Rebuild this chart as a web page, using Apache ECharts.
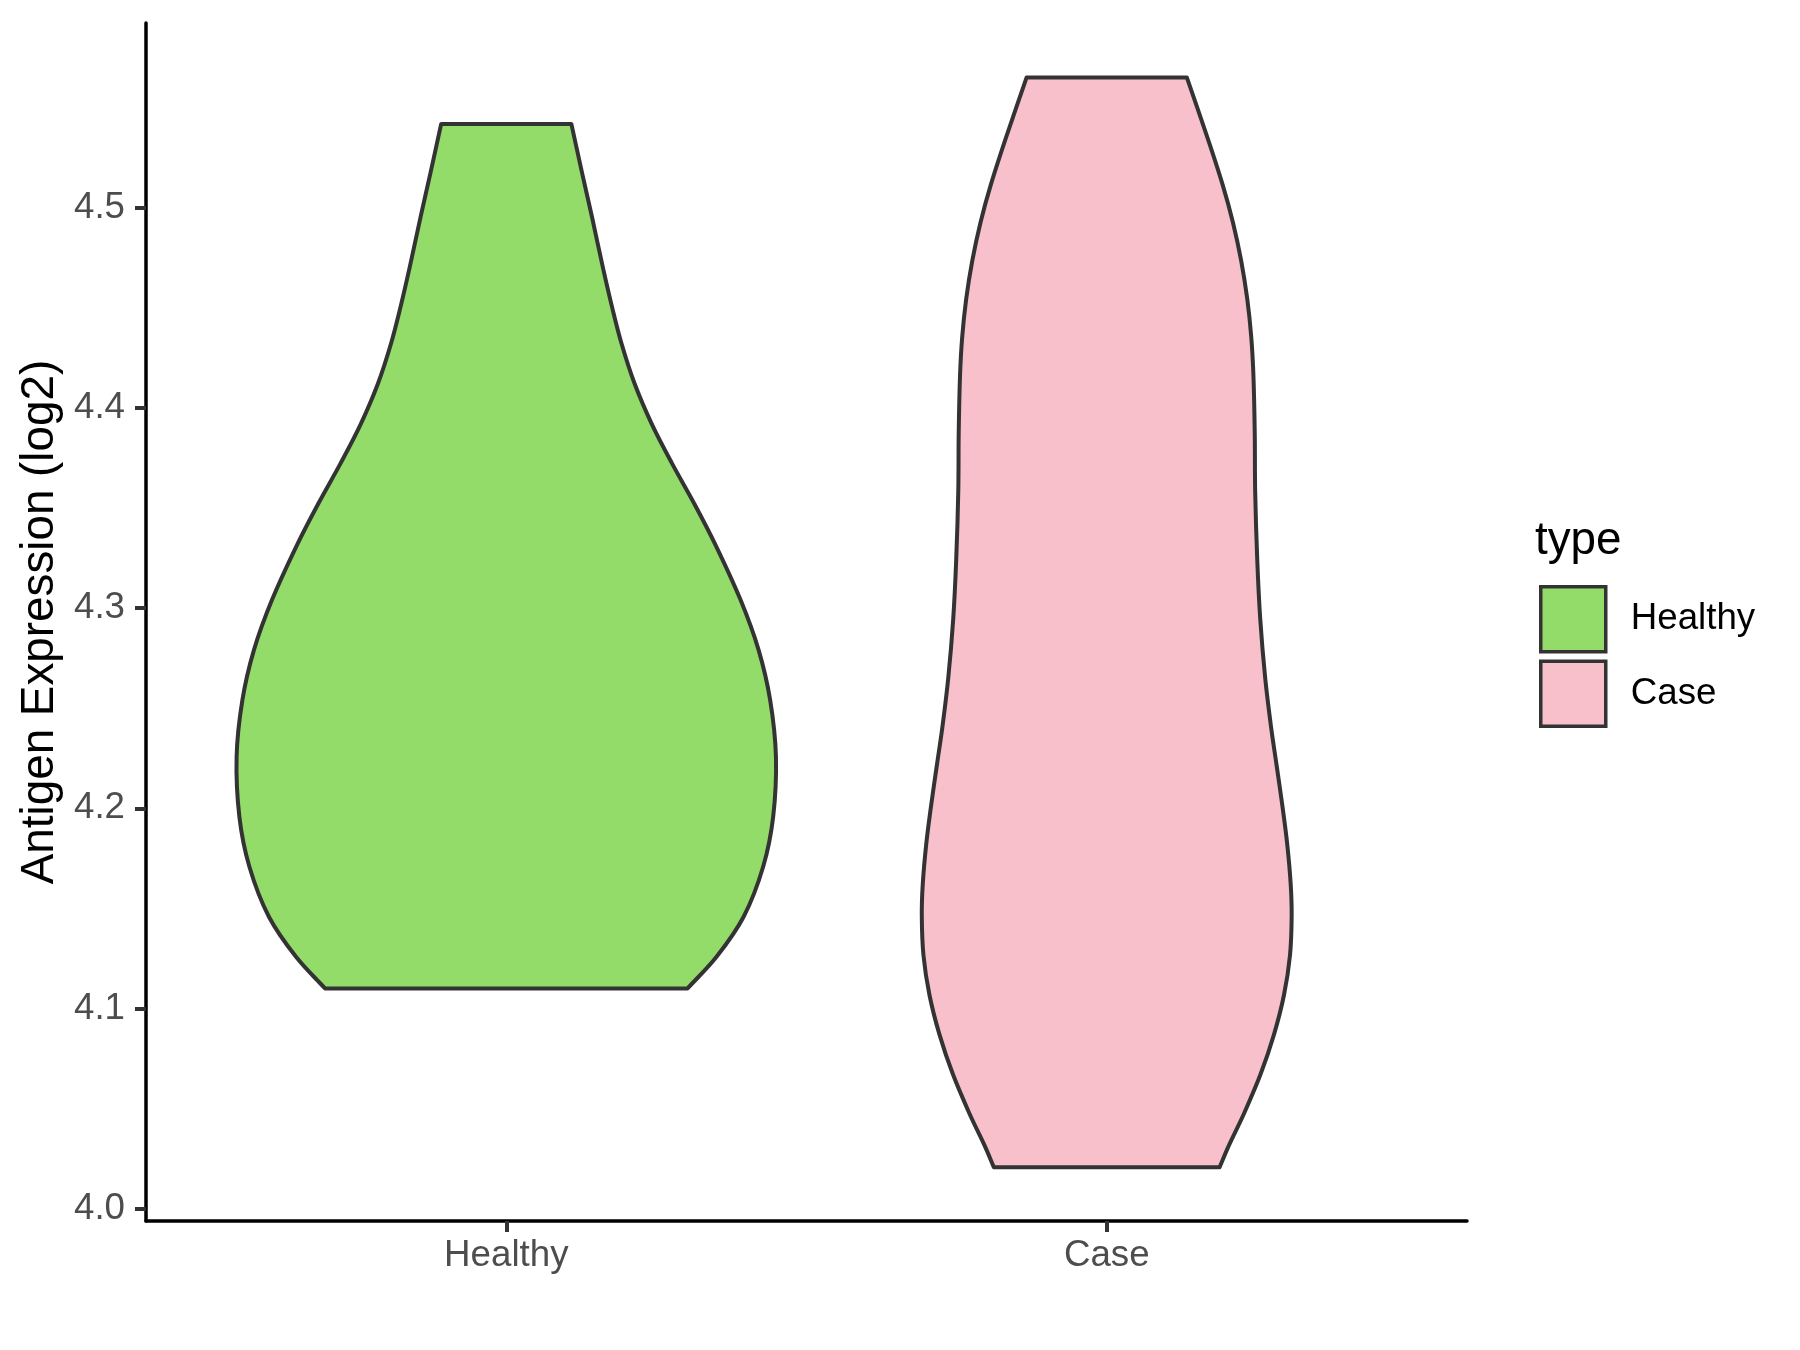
<!DOCTYPE html>
<html>
<head>
<meta charset="utf-8">
<script src="https://cdn.jsdelivr.net/npm/echarts@6/dist/echarts.min.js"></script>
<style>
  html, body { margin: 0; padding: 0; background: #ffffff; }
  #chart { width: 1800px; height: 1350px; }
</style>
</head>
<body>
<div id="chart"></div>
<script>
// ---- data ----
const categories = ['Healthy', 'Case'];
const yTicks = [4.0, 4.1, 4.2, 4.3, 4.4, 4.5];

// violin outlines: expression value (top -> bottom) and half-width (x-axis units)
const healthyY = [4.5419, 4.5172, 4.4956, 4.4706, 4.4506, 4.4323, 4.4123, 4.3923, 4.3723, 4.3524,
                  4.3315, 4.3040, 4.2790, 4.2540, 4.2257, 4.1958, 4.1708, 4.1458, 4.1258, 4.1100];
const healthyHalf = [0.1084, 0.1264, 0.1426, 0.1606, 0.1760, 0.1918, 0.2135, 0.2418, 0.2760, 0.3127,
                     0.3486, 0.3903, 0.4203, 0.4395, 0.4491, 0.4445, 0.4278, 0.3953, 0.3502, 0.3019];

const caseY = [4.5651, 4.5349, 4.5119, 4.4928, 4.4737, 4.4545, 4.4354, 4.4163, 4.3876, 4.3589, 4.3240,
               4.2944, 4.2648, 4.2410, 4.2213, 4.2015, 4.1818, 4.1620, 4.1462, 4.1265, 4.1067, 4.0869,
               4.0672, 4.0474, 4.0316, 4.0207];
const caseHalf = [0.1334, 0.1679, 0.1926, 0.2101, 0.2238, 0.2340, 0.2407, 0.2443, 0.2465, 0.2472, 0.2507,
                  0.2557, 0.2640, 0.2735, 0.2830, 0.2924, 0.3007, 0.3064, 0.3080, 0.3052, 0.2952, 0.2785,
                  0.2563, 0.2285, 0.2035, 0.1880];

const colors = { Healthy: '#94DC6A', Case: '#F7C0CB' };
const FONT = '"Liberation Sans", Arial, sans-serif';

function violinRenderer(ys, halfs, center, color) {
  return function (params, api) {
    const right = [], left = [];
    for (let i = 0; i < ys.length; i++) {
      right.push(api.coord([center + halfs[i], ys[i]]));
      left.push(api.coord([center - halfs[i], ys[i]]));
    }
    const n = ys.length - 1;
    const pts = [];
    // right side top -> bottom (corners duplicated to keep them sharp)
    pts.push(right[0]);
    for (let i = 0; i <= n; i++) pts.push(right[i]);
    pts.push(right[n]);
    // left side bottom -> top
    pts.push(left[n]);
    for (let i = n; i >= 0; i--) pts.push(left[i]);
    pts.push(left[0]);
    return {
      type: 'polygon',
      shape: { points: pts, smooth: 0.35 },
      style: { fill: color, stroke: '#333333', lineWidth: 4, lineJoin: 'round' }
    };
  };
}

const chart = echarts.init(document.getElementById('chart'), null, { renderer: 'canvas' });
chart.setOption({
  animation: false,
  backgroundColor: '#ffffff',
  title: {
    text: 'type',
    left: 1530,
    top: 513,
    textStyle: { fontFamily: FONT, fontSize: 45.8, fontWeight: 'normal', color: '#000000' }
  },
  legend: {
    orient: 'vertical',
    left: 1539,
    top: 585,
    padding: 0,
    itemWidth: 65,
    itemHeight: 65,
    itemGap: 6,
    icon: 'rect',
    data: categories,
    itemStyle: { borderColor: '#333333', borderWidth: 3.5 },
    textStyle: { fontFamily: FONT, fontSize: 36.7, color: '#000000', padding: [0, 0, 0, 20] },
    selectedMode: false
  },
  grid: { left: 146, right: 333, top: 23, bottom: 129, containLabel: false },
  xAxis: {
    type: 'value',
    min: 0.4,
    max: 2.6,
    splitLine: { show: false },
    axisLine: { show: true, onZero: false, lineStyle: { color: '#000000', width: 3.5 } },
    axisTick: { show: true, customValues: [1, 2], length: 11, lineStyle: { color: '#333333', width: 4 } },
    axisLabel: {
      show: true,
      customValues: [1, 2],
      margin: 16,
      fontFamily: FONT,
      fontSize: 36.7,
      color: '#4D4D4D',
      formatter: function (v) { return categories[Math.round(v) - 1] || ''; }
    }
  },
  yAxis: {
    type: 'value',
    min: 3.9938,
    max: 4.5923,
    name: 'Antigen Expression (log2)',
    nameLocation: 'middle',
    nameGap: 76,
    nameTextStyle: { fontFamily: FONT, fontSize: 45.8, color: '#000000' },
    splitLine: { show: false },
    axisLine: { show: true, onZero: false, lineStyle: { color: '#000000', width: 3.5 } },
    axisTick: { show: true, customValues: yTicks, length: 11, lineStyle: { color: '#333333', width: 4 } },
    axisLabel: {
      show: true,
      customValues: yTicks,
      margin: 21,
      fontFamily: FONT,
      fontSize: 36.7,
      color: '#4D4D4D',
      formatter: function (v) { return v.toFixed(1); }
    }
  },
  series: [
    {
      name: 'Healthy',
      type: 'custom',
      coordinateSystem: 'cartesian2d',
      itemStyle: { color: colors.Healthy },
      data: [[1, 4.3]],
      renderItem: violinRenderer(healthyY, healthyHalf, 1, colors.Healthy)
    },
    {
      name: 'Case',
      type: 'custom',
      coordinateSystem: 'cartesian2d',
      itemStyle: { color: colors.Case },
      data: [[2, 4.3]],
      renderItem: violinRenderer(caseY, caseHalf, 2, colors.Case)
    }
  ]
});
</script>
</body>
</html>
